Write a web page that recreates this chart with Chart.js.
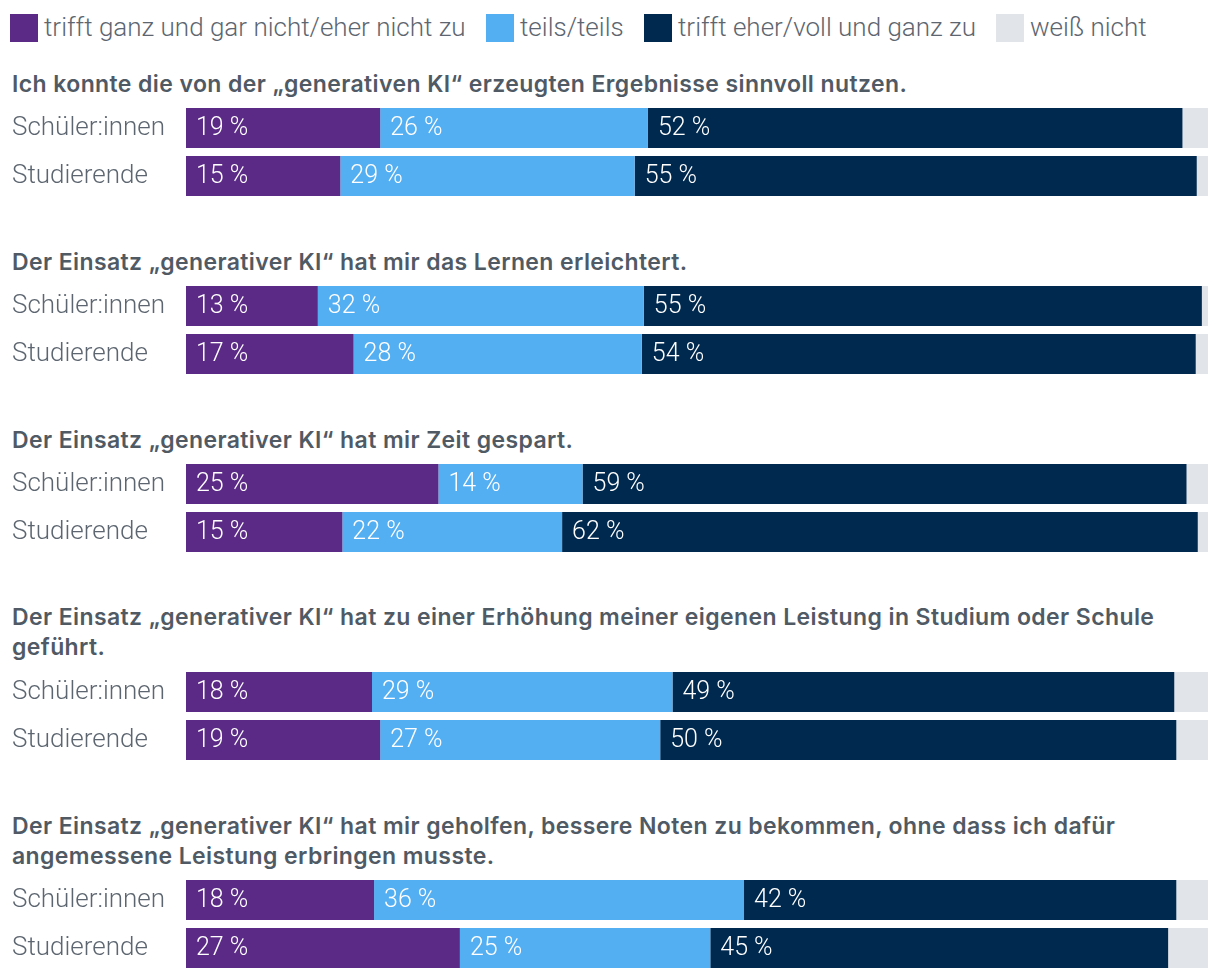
<!DOCTYPE html>
<html lang="de">
<head>
<meta charset="utf-8">
<script src="https://cdn.jsdelivr.net/npm/chart.js@4.4.1/dist/chart.umd.min.js"></script>
<style>
  html, body { margin: 0; padding: 0; background: #fff; }
  #root { position: relative; width: 1220px; height: 980px; overflow: hidden; font-family: Roboto, "Liberation Sans", sans-serif; }
  .legend-item { position: absolute; top: 14px; height: 28px; display: flex; align-items: center; }
  .legend-item .sw { width: 28px; height: 28px; margin-right: 6px; flex: none; }
  .legend-item .tx { font-size: 26px; font-weight: 300; color: #5d6670; white-space: nowrap; line-height: 26px; margin-top: -2px; }
  .title { position: absolute; left: 12px; font-family: Inter, Roboto, sans-serif; font-size: 23px; font-weight: 600; letter-spacing: 0.4px; color: #505a65; line-height: 30px; white-space: nowrap; }
  .chart-box { position: absolute; left: 0; width: 1220px; height: 96px; }
</style>
</head>
<body>
<div id="root"></div>
<script>
// ---- data ----
const categories = ["Schüler:innen", "Studierende"];
const questions = [
  ["Ich konnte die von der „generativen KI“ erzeugten Ergebnisse sinnvoll nutzen."],
  ["Der Einsatz „generativer KI“ hat mir das Lernen erleichtert."],
  ["Der Einsatz „generativer KI“ hat mir Zeit gespart."],
  ["Der Einsatz „generativer KI“ hat zu einer Erhöhung meiner eigenen Leistung in Studium oder Schule", "geführt."],
  ["Der Einsatz „generativer KI“ hat mir geholfen, bessere Noten zu bekommen, ohne dass ich dafür", "angemessene Leistung erbringen musste."]
];
const seriesNames = ["trifft ganz und gar nicht/eher nicht zu", "teils/teils", "trifft eher/voll und ganz zu", "weiß nicht"];
// values in order: Q1 Schüler, Q1 Stud, Q2 Schüler, Q2 Stud, ...
const disagree = [19.0, 15.1, 12.9, 16.4, 24.7, 15.3, 18.2, 19.0, 18.4, 26.8];
const partly   = [26.2, 28.8, 31.9, 28.2, 14.1, 21.5, 29.4, 27.4, 36.2, 24.5];
const agree    = [52.3, 55.0, 54.6, 54.2, 59.1, 62.2, 49.1, 50.5, 42.3, 44.8];
const dontKnow = [2.5, 1.2, 0.6, 1.2, 2.1, 1.0, 3.3, 3.1, 3.1, 3.9];
const disagreeLabels = [19, 15, 13, 17, 25, 15, 18, 19, 18, 27];
const partlyLabels   = [26, 29, 32, 28, 14, 22, 29, 27, 36, 25];
const agreeLabels    = [52, 55, 55, 54, 59, 62, 49, 50, 42, 45];

// ---- styles / layout ----
const colors = ["#5b2a86", "#54aef2", "#00294f", "#e1e4e9"];
const legendX = [10, 486, 644, 996];
const titleTops = [69, 247, 425, 602, 811];
const chartTops = [104, 282, 460, 668, 876];
const textColor = "#5d6670";

const root = document.getElementById("root");

// legend
seriesNames.forEach((name, i) => {
  const item = document.createElement("div");
  item.className = "legend-item";
  item.style.left = legendX[i] + "px";
  item.innerHTML = '<span class="sw" style="background:' + colors[i] + '"></span><span class="tx"></span>';
  item.querySelector(".tx").textContent = name;
  root.appendChild(item);
});

const valueLabelPlugin = {
  id: "valueLabels",
  afterDatasetsDraw(chart) {
    const ctx = chart.ctx;
    ctx.save();
    ctx.font = "300 25px Roboto, 'Liberation Sans', sans-serif";
    ctx.fillStyle = "#ffffff";
    ctx.textAlign = "left";
    ctx.textBaseline = "middle";
    chart.data.datasets.forEach((ds, di) => {
      if (!ds.valueLabels) return;
      const meta = chart.getDatasetMeta(di);
      meta.data.forEach((bar, j) => {
        const left = Math.min(bar.base, bar.x);
        ctx.fillText(ds.valueLabels[j] + " %", left + 10, bar.y + 1);
      });
    });
    ctx.restore();
  }
};

questions.forEach((lines, q) => {
  const t = document.createElement("div");
  t.className = "title";
  t.style.top = titleTops[q] + "px";
  lines.forEach((ln, k) => {
    if (k > 0) t.appendChild(document.createElement("br"));
    t.appendChild(document.createTextNode(ln));
  });
  root.appendChild(t);

  const box = document.createElement("div");
  box.className = "chart-box";
  box.style.top = chartTops[q] + "px";
  const cv = document.createElement("canvas");
  box.appendChild(cv);
  root.appendChild(box);

  const idx = [2 * q, 2 * q + 1];
  const pick = arr => idx.map(i => arr[i]);
  const seriesVals = [disagree, partly, agree, dontKnow];
  const seriesLabels = [disagreeLabels, partlyLabels, agreeLabels, null];

  new Chart(cv, {
    type: "bar",
    data: {
      labels: categories,
      datasets: seriesVals.map((arr, s) => ({
        label: seriesNames[s],
        data: pick(arr),
        backgroundColor: colors[s],
        borderWidth: 0,
        barPercentage: 40 / 48,
        categoryPercentage: 1,
        valueLabels: seriesLabels[s] ? pick(seriesLabels[s]) : null
      }))
    },
    options: {
      indexAxis: "y",
      responsive: true,
      maintainAspectRatio: false,
      animation: false,
      events: [],
      layout: { padding: { left: 12, right: 12, top: 0, bottom: 0 } },
      scales: {
        x: { stacked: true, min: 0, max: 100, display: false },
        y: {
          stacked: true,
          grid: { display: false },
          border: { display: false },
          ticks: {
            color: textColor,
            crossAlign: "far",
            padding: 0,
            font: { family: "Roboto, 'Liberation Sans', sans-serif", size: 26, weight: 300 }
          },
          afterFit(scale) {
            scale.width = 174;
            scale.paddingTop = 0;
            scale.paddingBottom = 0;
          }
        }
      },
      plugins: { legend: { display: false }, tooltip: { enabled: false } }
    },
    plugins: [valueLabelPlugin]
  });
});
</script>
</body>
</html>
